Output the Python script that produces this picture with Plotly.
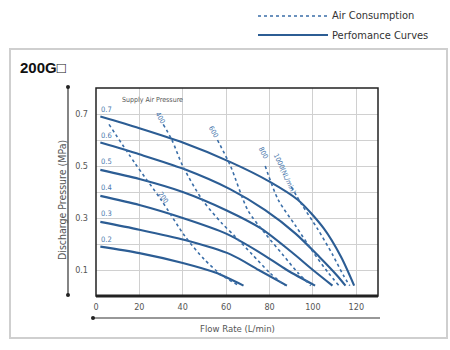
import plotly.graph_objects as go

# ---------------- data ----------------
supply_pressures = ["0.7", "0.6", "0.5", "0.4", "0.3", "0.2"]
perf_flow = {
    "0.7": [2, 20, 40, 62, 80, 93, 105, 113, 119],
    "0.6": [2, 20, 40, 62, 78, 92, 103, 111, 115],
    "0.5": [2, 20, 40, 60, 76, 90, 100, 109],
    "0.4": [2, 20, 40, 60, 75, 88, 101],
    "0.3": [2, 20, 41, 62, 75, 88],
    "0.2": [2, 20, 40, 55, 68],
}
perf_pressure = {
    "0.7": [0.69, 0.645, 0.59, 0.515, 0.44, 0.37, 0.26, 0.15, 0.04],
    "0.6": [0.59, 0.545, 0.49, 0.41, 0.33, 0.24, 0.15, 0.08, 0.04],
    "0.5": [0.485, 0.45, 0.40, 0.33, 0.26, 0.17, 0.10, 0.04],
    "0.4": [0.385, 0.35, 0.30, 0.24, 0.17, 0.10, 0.04],
    "0.3": [0.285, 0.255, 0.215, 0.16, 0.10, 0.04],
    "0.2": [0.19, 0.165, 0.127, 0.09, 0.04],
}
air_labels = ["200", "400", "600", "800", "1000(NL/min)"]
air_flow = {
    "200": [6, 18, 30, 41, 50, 58, 66],
    "400": [31, 35, 40, 49, 58, 64, 72, 80, 87],
    "600": [56, 62, 70, 78, 86, 93, 99],
    "800": [78, 84, 92, 100, 107, 112],
    "1000(NL/min)": [90, 95, 102, 109, 114, 117],
}
air_pressure = {
    "200": [0.66, 0.51, 0.37, 0.23, 0.14, 0.08, 0.04],
    "400": [0.66, 0.60, 0.50, 0.37, 0.28, 0.23, 0.16, 0.09, 0.04],
    "600": [0.60, 0.50, 0.33, 0.24, 0.16, 0.09, 0.04],
    "800": [0.50, 0.37, 0.27, 0.17, 0.09, 0.04],
    "1000(NL/min)": [0.42, 0.35, 0.26, 0.16, 0.08, 0.04],
}
air_label_pos = {  # (flow, pressure, angle)
    "200": (31, 0.377, 55),
    "400": (29.5, 0.685, 60),
    "600": (54, 0.63, 60),
    "800": (77, 0.55, 62),
    "1000(NL/min)": (87, 0.47, 65),
}
x_ticks = [0, 20, 40, 60, 80, 100, 120]
y_ticks = [0.1, 0.3, 0.5, 0.7]
y_minor = [0.2, 0.4, 0.6]

PERF_C = "#2c5d94"
AIR_C = "#3a6ea8"
TXT = "#555555"
NARROW = "DejaVu Sans Condensed, Liberation Sans Narrow, Liberation Sans, sans-serif"

fig = go.Figure()
for p in supply_pressures:
    fig.add_trace(go.Scatter(x=perf_flow[p], y=perf_pressure[p], mode="lines",
                             line=dict(color=PERF_C, width=2.1, shape="spline", smoothing=0.8),
                             showlegend=False, hoverinfo="skip"))
for a in air_labels:
    fig.add_trace(go.Scatter(x=air_flow[a], y=air_pressure[a], mode="lines",
                             line=dict(color=AIR_C, width=1.6, dash="dot", shape="spline", smoothing=0.8),
                             showlegend=False, hoverinfo="skip"))

ann = []
for p in supply_pressures:
    ann.append(dict(x=1.3, y=float(p) + 0.018, text=p, showarrow=False, xanchor="left", yanchor="middle",
                    font=dict(size=7.5, color="#4a78ad", family=NARROW)))
for a in air_labels:
    x, y, ang = air_label_pos[a]
    ann.append(dict(x=x, y=y, text=a, showarrow=False, textangle=ang, xanchor="center", yanchor="middle",
                    font=dict(size=7, color="#4a78ad", family=NARROW)))
ann.append(dict(x=26, y=0.754, text="Supply Air Pressure", showarrow=False, xanchor="center", yanchor="middle",
                font=dict(size=7, color=TXT, family=NARROW)))

# paper-pixel helpers (plot area: left 96, right 378, top 88, bottom 296)
W, H = 450, 350
L, R, T, B = 96, 378, 88, 296
def px(x):
    return (x - L) / (R - L)
def py(y):
    return (B - y) / (B - T)

ann += [
    dict(xref="paper", yref="paper", x=px(18), y=py(68), text="<b>200G□</b>", showarrow=False,
         xanchor="left", yanchor="middle",
         font=dict(size=15, color="#111111", family="Liberation Sans, Arial, sans-serif")),
    dict(xref="paper", yref="paper", x=px(330), y=py(16), text="Air Consumption", showarrow=False,
         xanchor="left", yanchor="middle", font=dict(size=11, color="#333333", family=NARROW)),
    dict(xref="paper", yref="paper", x=px(330), y=py(35), text="Perfomance Curves", showarrow=False,
         xanchor="left", yanchor="middle", font=dict(size=11, color="#333333", family=NARROW)),
    dict(xref="paper", yref="paper", x=px(62), y=py(200), text="Discharge Pressure (MPa)", showarrow=False,
         xanchor="center", yanchor="middle",
         textangle=-90, font=dict(size=10.5, color=TXT, family=NARROW)),
    dict(xref="paper", yref="paper", x=px(237), y=py(328), text="Flow Rate (L/min)", showarrow=False,
         xanchor="center", yanchor="middle",
         font=dict(size=9.5, color=TXT, family=NARROW)),
]

shapes = [
    # outer gray frame
    dict(type="rect", xref="paper", yref="paper", x0=px(10), x1=px(447), y0=py(338), y1=py(49),
         line=dict(color="#cfcfcf", width=2), layer="below"),
    # legend lines
    dict(type="line", xref="paper", yref="paper", x0=px(258), x1=px(328), y0=py(16), y1=py(16),
         line=dict(color=AIR_C, width=1.6, dash="dot")),
    dict(type="line", xref="paper", yref="paper", x0=px(258), x1=px(328), y0=py(35), y1=py(35),
         line=dict(color=PERF_C, width=2)),
    # decorative axis lines
    dict(type="line", xref="paper", yref="paper", x0=px(68), x1=px(68), y0=py(87), y1=py(295),
         line=dict(color="#333333", width=1.2)),
    dict(type="circle", xref="paper", yref="paper", x0=px(66), x1=px(70), y0=py(85), y1=py(89),
         fillcolor="#222222", line=dict(width=0)),
    dict(type="circle", xref="paper", yref="paper", x0=px(66), x1=px(70), y0=py(293), y1=py(297),
         fillcolor="#222222", line=dict(width=0)),
    dict(type="line", xref="paper", yref="paper", x0=px(93), x1=px(380), y0=py(318), y1=py(318),
         line=dict(color="#333333", width=1.2)),
    dict(type="circle", xref="paper", yref="paper", x0=px(91), x1=px(95), y0=py(316), y1=py(320),
         fillcolor="#222222", line=dict(width=0)),
    # plot border
    dict(type="rect", xref="paper", yref="paper", x0=0, x1=1, y0=0, y1=1,
         line=dict(color="#222222", width=1.5)),
    dict(type="line", xref="paper", yref="paper", x0=0, x1=1, y0=0, y1=0,
         line=dict(color="#222222", width=3)),
]

fig.update_layout(
    width=W, height=H, margin=dict(l=L, r=W - R, t=T, b=H - B),
    paper_bgcolor="white", plot_bgcolor="white",
    annotations=ann, shapes=shapes, showlegend=False,
    xaxis=dict(range=[0, 130], tickvals=x_ticks, ticktext=[str(v) for v in x_ticks],
               showgrid=True, gridcolor="#d0d0d0", gridwidth=1.3, zeroline=False,
               showline=False, ticks="", ticklabelstandoff=4,
               tickfont=dict(size=9, color=TXT, family=NARROW)),
    yaxis=dict(range=[0, 0.8], tickvals=y_ticks, ticktext=[str(v) for v in y_ticks],
               showgrid=True, gridcolor="#d0d0d0", gridwidth=1.3, zeroline=False,
               showline=False, ticks="", ticklabelstandoff=7,
               tickfont=dict(size=9, color=TXT, family=NARROW),
               minor=dict(tickvals=y_minor, showgrid=True, gridcolor="#d0d0d0", gridwidth=1.3)),
)

fig.write_html("out.html")
